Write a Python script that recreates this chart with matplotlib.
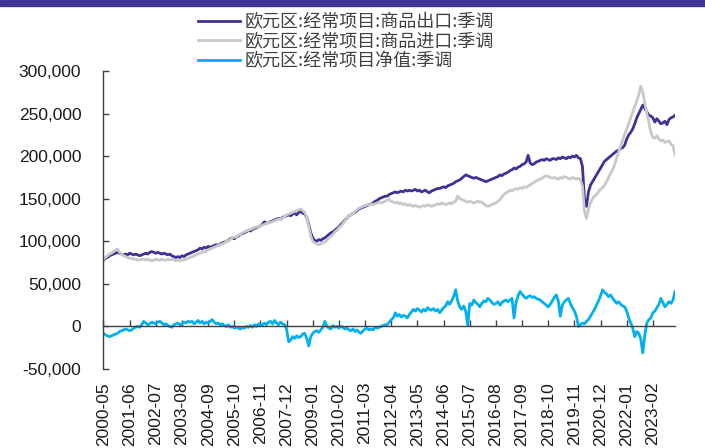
import numpy as np
import pandas as pd
import matplotlib
matplotlib.use("Agg")
import matplotlib.pyplot as plt
from matplotlib.patches import Rectangle

plt.rcParams['font.family'] = ['Liberation Sans', 'Noto Sans CJK SC', 'DejaVu Sans']

######################################################
# DATI MENSILI (migliaia), da 2000-05 a 2024-01

start_month = '2000-05'

exports_k = (
    [78, 80, 81, 83, 84, 85, 86, 87] +                                  # 2000
    [86, 85, 84, 85, 84, 86, 85, 84, 85, 84, 83, 84] +                  # 2001
    [85, 86, 85, 87, 88, 87, 86, 87, 86, 85, 86, 85] +                  # 2002
    [84, 85, 83, 82, 81, 82, 81, 83, 82, 84, 85, 86] +                  # 2003
    [87, 88, 89, 90, 92, 91, 93, 92, 94, 93, 94, 95] +                  # 2004
    [96, 95, 97, 98, 99, 100, 101, 103, 104, 103, 105, 106] +           # 2005
    [108, 109, 110, 111, 113, 112, 114, 115, 116, 117, 118, 120] +      # 2006
    [123, 121, 122, 123, 124, 125, 126, 127, 126, 128, 129, 130] +      # 2007
    [131, 130, 132, 133, 131, 134, 135, 133, 132, 128, 120, 110] +      # 2008
    [104, 101, 100, 102, 101, 103, 104, 106, 108, 110, 111, 113] +      # 2009
    [115, 117, 120, 122, 125, 127, 130, 131, 133, 134, 136, 138] +      # 2010
    [139, 140, 141, 142, 143, 144, 145, 147, 148, 150, 151, 152] +      # 2011
    [153, 153, 155, 156, 157, 158, 157, 158, 159, 158, 160, 159] +      # 2012
    [160, 159, 160, 161, 159, 160, 158, 159, 160, 158, 157, 159] +      # 2013
    [160, 161, 162, 162, 163, 164, 163, 165, 166, 167, 168, 170] +      # 2014
    [171, 172, 174, 176, 178, 177, 176, 175, 174, 175, 174, 173] +      # 2015
    [172, 171, 170, 171, 172, 173, 174, 175, 176, 178, 177, 179] +      # 2016
    [180, 181, 183, 184, 186, 185, 187, 188, 190, 191, 193, 201] +      # 2017
    [192, 190, 191, 193, 194, 195, 196, 195, 197, 196, 195, 197] +      # 2018
    [197, 196, 198, 197, 199, 198, 197, 199, 198, 200, 199, 201] +      # 2019
    [198, 197, 188, 150, 141, 158, 166, 170, 174, 178, 182, 186] +      # 2020
    [190, 194, 196, 198, 200, 202, 204, 206, 207, 209, 210, 213] +      # 2021
    [220, 225, 228, 232, 238, 245, 250, 255, 260, 256, 252, 248] +      # 2022
    [247, 245, 240, 244, 241, 238, 239, 241, 237, 243, 245, 246] +      # 2023
    [248]                                                               # 2024
)

imports_k = (
    [79, 81, 83, 85, 86, 88, 90, 91] +
    [87, 85, 83, 82, 81, 80, 80, 79, 79, 78, 78, 79] +
    [79, 78, 79, 78, 77, 78, 79, 78, 78, 79, 78, 78] +
    [79, 78, 79, 78, 77, 78, 77, 78, 78, 79, 80, 81] +
    [82, 83, 84, 85, 86, 87, 88, 88, 90, 91, 92, 93] +
    [94, 95, 96, 97, 98, 100, 101, 102, 104, 105, 105, 107] +
    [108, 110, 111, 112, 113, 114, 115, 116, 117, 117, 118, 119] +
    [120, 121, 122, 122, 123, 124, 125, 126, 126, 127, 129, 131] +
    [132, 133, 134, 135, 136, 137, 138, 136, 134, 128, 118, 106] +
    [100, 98, 97, 96, 97, 98, 99, 101, 104, 106, 108, 111] +
    [113, 116, 118, 121, 124, 127, 130, 131, 133, 135, 137, 139] +
    [140, 141, 142, 143, 142, 144, 143, 144, 145, 146, 145, 146] +
    [147, 148, 149, 147, 146, 145, 146, 144, 145, 143, 144, 142] +
    [143, 142, 141, 142, 141, 140, 141, 142, 141, 143, 142, 141] +
    [142, 143, 144, 143, 145, 144, 143, 144, 145, 144, 146, 147] +
    [153, 150, 149, 148, 147, 146, 147, 146, 145, 146, 147, 146] +
    [146, 144, 142, 141, 142, 143, 144, 145, 147, 149, 152, 155] +
    [157, 158, 160, 159, 161, 162, 161, 163, 162, 164, 163, 165] +
    [166, 168, 169, 171, 172, 173, 174, 176, 177, 176, 175, 174] +
    [175, 174, 173, 175, 174, 176, 175, 174, 173, 175, 174, 173] +
    [174, 172, 165, 135, 127, 138, 145, 150, 153, 155, 158, 161] +
    [163, 166, 170, 175, 180, 184, 190, 198, 205, 212, 219, 226] +
    [232, 238, 245, 252, 258, 265, 272, 282, 275, 262, 250, 240] +
    [228, 222, 221, 224, 220, 218, 219, 216, 217, 218, 214, 212] +
    [201]
)

net_k = (
    [-8, -10, -11, -12, -11, -10, -9, -8] +
    [-6, -5, -4, -3, -4, -5, -4, -2, -1, 0, -1, 2] +
    [6, 4, 2, 3, 5, 4, 3, 5, 6, 4, 2, 3] +
    [1, 0, -1, 2, 3, 4, 2, 3, 5, 4, 6, 5] +
    [6, 3, 5, 7, 4, 6, 3, 5, 4, 6, 8, 5] +
    [3, 4, 2, 3, 1, 0, 2, -1, 0, -2, -1, -2] +
    [-3, -1, -2, 0, -1, 1, -1, 2, 0, 3, 1, 2] +
    [4, 2, 5, 6, 3, 7, 4, 2, 5, 3, 2, -3] +
    [-18, -16, -12, -14, -11, -13, -12, -9, -8, -14, -23, -12] +
    [-8, -6, -5, -7, -4, -1, 6, 0, -2, -3, 1, -1] +
    [0, -2, 0, -1, -3, -2, -4, -5, -3, -6, -4, -7] +
    [-8, -5, -3, -2, -4, -3, -4, -1, -2, -1, 0, 1] +
    [2, 2, 5, 8, 10, 16, 12, 14, 11, 13, 12, 10] +
    [14, 17, 20, 18, 21, 19, 17, 20, 18, 22, 20, 19] +
    [21, 18, 20, 16, 19, 22, 24, 29, 26, 30, 35, 43] +
    [30, 23, 20, 24, 18, 1, 27, 25, 31, 28, 26, 23] +
    [27, 30, 29, 33, 31, 28, 26, 27, 29, 25, 28, 30] +
    [31, 29, 31, 33, 10, 28, 36, 41, 38, 35, 33, 35] +
    [36, 34, 35, 33, 32, 31, 29, 27, 25, 23, 26, 30] +
    [34, 37, 30, 12, 25, 29, 31, 33, 27, 22, 18, 12] +
    [0, 2, 4, 3, 6, 8, 12, 16, 20, 25, 30, 36] +
    [43, 40, 38, 35, 37, 33, 30, 27, 29, 26, 24, 23] +
    [18, 10, 4, -2, -12, -6, -8, -15, -31, -10, 4, 8] +
    [10, 16, 18, 22, 26, 33, 28, 23, 26, 29, 27, 31] +
    [41]
)

series_labels = ['欧元区:经常项目:商品出口:季调',
                 '欧元区:经常项目:商品进口:季调',
                 '欧元区:经常项目净值:季调']
series_colors = ['#3f3296', '#c8c8c8', '#00b0f0']

######################################################
# GRAFICO

exports = np.array(exports_k) * 1000
imports = np.array(imports_k) * 1000
net = np.array(net_k) * 1000

months = pd.date_range(start_month, periods=len(exports), freq='MS')
x = np.arange(len(months))
tick_pos = x[::13]
tick_labels = months[::13].strftime('%Y-%m')

fig = plt.figure(figsize=(7.05, 4.48), dpi=100)
ax = fig.add_axes([103.5 / 705, 1 - 369 / 448, (675 - 103.5) / 705, (369 - 71) / 448])

for values, label, color in zip([exports, imports, net], series_labels, series_colors):
    ax.plot(x, values, color=color, lw=2.0, label=label, solid_joinstyle='round')

ax.set_xlim(0, len(x) - 1)
ax.set_ylim(-50000, 300000)
ax.set_yticks(np.arange(-50000, 300001, 50000))
ax.yaxis.set_major_formatter(matplotlib.ticker.FuncFormatter(lambda v, p: f'{v:,.0f}'))
ax.set_xticks(tick_pos)
ax.set_xticklabels(tick_labels)

for side in ['top', 'right']:
    ax.spines[side].set_visible(False)
ax.spines['bottom'].set_position(('data', 0))
for side in ['left', 'bottom']:
    ax.spines[side].set_color('#404040')
    ax.spines[side].set_linewidth(1.0)

ax.tick_params(axis='y', direction='in', length=4, width=1, color='#404040',
               labelsize=12.5, labelcolor='#1a1a1a', pad=16)
ax.tick_params(axis='x', direction='in', length=4, width=1, color='#404040',
               labelsize=12.5, labelcolor='#1a1a1a', pad=40, labelrotation=90)

leg = ax.legend(loc='upper left', bbox_to_anchor=(198 / 705, 1 - 13 / 448),
                bbox_transform=fig.transFigure, frameon=False,
                prop={'family': ['Noto Sans CJK SC', 'DejaVu Sans'], 'size': 13},
                handlelength=2.35, handletextpad=0.25, labelspacing=0.1,
                borderaxespad=0, borderpad=0)
for t in leg.get_texts():
    t.set_color('#404040')

# barra viola in alto
fig.patches.append(Rectangle((0, 1 - 6 / 448), 1, 6 / 448, transform=fig.transFigure,
                             color='#3f3394', zorder=5))

fig.savefig('out.png', dpi=100)
